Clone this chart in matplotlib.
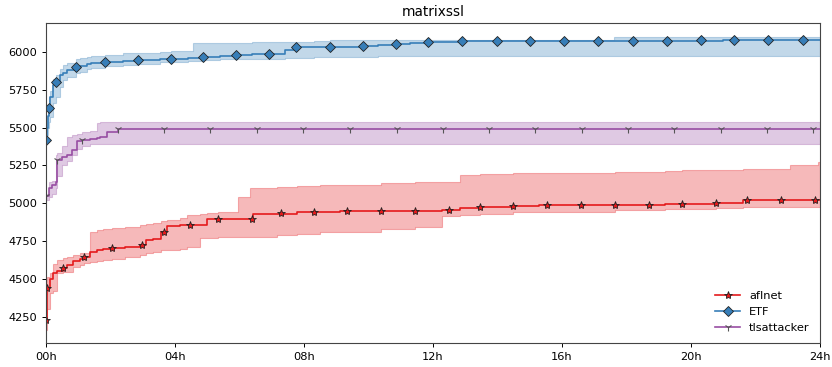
import matplotlib
matplotlib.use("Agg")
import matplotlib.pyplot as plt

# time in hours
t_etf = [0, 0.03, 0.06, 0.09, 0.12, 0.23, 0.3, 0.43, 0.54, 0.64, 0.92, 1.05, 1.26, 1.4, 1.83, 2.4, 2.84,
         3.53, 3.87, 4.4, 4.57, 4.87, 5.4, 5.88, 6.4, 6.9, 7.4, 7.75, 8.3, 8.8, 9.83, 10.3, 10.84,
         11.3, 11.85, 12.4, 12.9, 15, 17.6, 21, 24]
etf_mean = [5420, 5500, 5580, 5632, 5705, 5782, 5804, 5848, 5862, 5881, 5899, 5905, 5919, 5925, 5936, 5941, 5947,
            5952, 5954, 5960, 5963, 5967, 5973, 5980, 5985, 5989, 6010, 6031, 6033, 6035, 6038, 6045, 6051,
            6058, 6064, 6068, 6071, 6073, 6075, 6077, 6080]
etf_lo = [5400, 5450, 5500, 5540, 5573, 5660, 5700, 5770, 5815, 5835, 5859, 5870, 5885, 5892, 5905, 5914, 5920,
          5932, 5935, 5940, 5943, 5947, 5950, 5952, 5954, 5956, 5957, 5958, 5965, 5969, 5969, 5974, 5974,
          5974, 5974, 5974, 5974, 5975, 5975, 5975, 5975]
etf_hi = [5440, 5580, 5650, 5700, 5745, 5820, 5845, 5890, 5914, 5930, 5950, 5958, 5968, 5972, 5980, 5990, 5996,
          6002, 6005, 6008, 6057, 6058, 6060, 6062, 6064, 6066, 6067, 6068, 6075, 6079, 6079, 6079, 6079,
          6079, 6079, 6079, 6079, 6079, 6096, 6096, 6096]
etf_mark_t = [0, 0.09, 0.3, 0.92, 1.83, 2.84, 3.87, 4.87, 5.88, 6.9, 7.75, 8.8, 9.83, 10.84, 11.85, 12.9,
              13.97, 15.0, 16.06, 17.12, 18.19, 19.25, 20.3, 21.33, 22.4, 23.47]
etf_mark_v = [5420, 5632, 5804, 5899, 5936, 5947, 5954, 5967, 5980, 5989, 6031, 6035, 6038, 6051, 6064, 6071,
              6071, 6072, 6073, 6075, 6075, 6075, 6076, 6077, 6077, 6078]

t_tls = [0, 0.1, 0.2, 0.3, 0.33, 0.49, 0.64, 0.8, 0.95, 1.13, 1.36, 1.57, 1.67, 1.88, 2.24, 3.0, 24]
tls_mean = [5050, 5100, 5120, 5140, 5287, 5309, 5320, 5350, 5410, 5419, 5425, 5430, 5441, 5474, 5488, 5492, 5492]
tls_lo = [5025, 5040, 5060, 5100, 5180, 5250, 5280, 5320, 5360, 5380, 5390, 5392, 5393, 5393, 5393, 5393, 5393]
tls_hi = [5060, 5144, 5150, 5320, 5330, 5380, 5441, 5450, 5460, 5470, 5475, 5533, 5535, 5536, 5537, 5538, 5538]
tls_mark_t = [0, 0.33, 1.13, 2.24, 3.67, 5.1, 6.53, 7.98, 9.43, 10.87, 12.32, 13.73, 15.16, 16.61, 18.06,
              19.48, 20.92, 22.35, 23.79]
tls_mark_v = [5050, 5287, 5419, 5488] + [5492] * 15

t_afl = [0, 0.02, 0.12, 0.23, 0.35, 0.52, 0.64, 0.85, 1.05, 1.19, 1.36, 1.57, 1.78, 2.04, 2.45, 2.91, 3.1,
         3.33, 3.57, 3.74, 4.15, 4.36, 4.78, 4.98, 5.34, 5.96, 6.33, 6.41, 7.15, 7.77, 8.5, 9.12, 10.38,
         11.44, 12.27, 12.84, 13.46, 14.49, 15.3, 17.63, 19.2, 19.71, 20.77, 21.62, 23.07, 23.95, 24]
afl_mean = [4220, 4440, 4500, 4539, 4555, 4572, 4594, 4617, 4630, 4645, 4682, 4693, 4697, 4702, 4711, 4726, 4760,
            4762, 4810, 4852, 4855, 4858, 4860, 4896, 4898, 4898, 4898, 4929, 4933, 4944, 4946, 4951, 4951,
            4951, 4955, 4970, 4979, 4984, 4990, 4990, 4995, 4999, 5001, 5019, 5019, 5019, 5019]
afl_lo = [4165, 4300, 4407, 4420, 4539, 4545, 4550, 4583, 4595, 4605, 4616, 4620, 4625, 4635, 4645, 4660, 4670,
          4682, 4690, 4693, 4700, 4712, 4770, 4772, 4775, 4778, 4780, 4781, 4790, 4800, 4808, 4814, 4830,
          4842, 4917, 4920, 4930, 4940, 4945, 4957, 4960, 4965, 4970, 4975, 4977, 4979, 4979]
afl_hi = [4400, 4517, 4540, 4600, 4627, 4640, 4649, 4660, 4671, 4675, 4814, 4822, 4830, 4838, 4847, 4858, 4865,
          4872, 4885, 4891, 4902, 4924, 4930, 4936, 4940, 5044, 5099, 5102, 5111, 5115, 5120, 5122, 5133,
          5140, 5144, 5188, 5193, 5198, 5203, 5210, 5215, 5218, 5221, 5225, 5254, 5276, 5276]
afl_mark_t = [0, 0.03, 0.52, 1.19, 2.04, 2.97, 3.66, 4.47, 5.34, 6.4, 7.3, 8.32, 9.33, 10.38, 11.44, 12.49,
              13.46, 14.49, 15.53, 16.59, 17.63, 18.7, 19.71, 20.77, 21.73, 22.79, 23.84]
afl_mark_v = [4230, 4440, 4572, 4645, 4702, 4726, 4810, 4858, 4898, 4898, 4936, 4944, 4951, 4951, 4951, 4957,
              4979, 4984, 4990, 4990, 4990, 4990, 4999, 5001, 5019, 5019, 5019]

red = '#e41a1c'
blue = '#377eb8'
purple = '#984ea3'

fig = plt.figure(figsize=(8.32, 3.67), dpi=100)
ax = fig.add_axes([0.0553, 0.0654, 0.9303, 0.872])

# aflnet
ax.fill_between(t_afl, afl_lo, afl_hi, step='post', color=red, alpha=0.3, lw=0.8)
ax.step(t_afl, afl_mean, where='post', color=red, lw=1.2)
ax.plot(afl_mark_t, afl_mark_v, ls='none', marker='*', ms=6, mfc=red, mec='#222222', mew=0.6)
ax.plot([], [], color=red, lw=1.2, marker='*', ms=6, mfc=red, mec='#222222', mew=0.6, label='aflnet')

# ETF
ax.fill_between(t_etf, etf_lo, etf_hi, step='post', color=blue, alpha=0.3, lw=0.8)
ax.step(t_etf, etf_mean, where='post', color=blue, lw=1.2)
ax.plot(etf_mark_t, etf_mark_v, ls='none', marker='D', ms=5.2, mfc=blue, mec='#222222', mew=0.6)
ax.plot([], [], color=blue, lw=1.2, marker='D', ms=5.2, mfc=blue, mec='#222222', mew=0.6, label='ETF')

# tlsattacker
ax.fill_between(t_tls, tls_lo, tls_hi, step='post', color=purple, alpha=0.3, lw=0.8)
ax.step(t_tls, tls_mean, where='post', color=purple, lw=1.2)
ax.plot(tls_mark_t, tls_mark_v, ls='none', marker='1', ms=6, mec='#555555', mew=0.8)
ax.plot([], [], color=purple, lw=1.2, marker='1', ms=6, mec='#555555', mew=0.8, label='tlsattacker')

ax.set_xlim(0, 24)
ax.set_ylim(4078, 6191)
ax.set_xticks(range(0, 25, 4))
ax.set_xticklabels([f"{h:02d}h" for h in range(0, 25, 4)])
ax.set_yticks(range(4250, 6001, 250))
ax.tick_params(labelsize=8.2, length=3, width=0.7)
for s in ax.spines.values():
    s.set_linewidth(0.8)
    s.set_color('#444444')
ax.set_title('matrixssl', fontsize=9.8, pad=5)
ax.legend(loc='lower right', frameon=False, fontsize=8.2, handlelength=2.2)

fig.savefig('out.png', dpi=100)
